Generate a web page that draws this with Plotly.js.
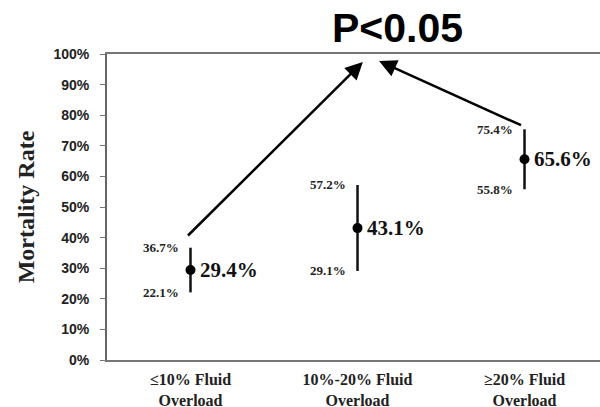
<!DOCTYPE html>
<html>
<head>
<meta charset="utf-8">
<script src="https://cdn.plot.ly/plotly-3.0.1.min.js"></script>
<style>html,body{margin:0;padding:0;background:#fff;}#chart{width:600px;height:407px;}</style>
</head>
<body>
<div id="chart"></div>
<script>
// Data
var categories = ["≤10% Fluid<br>Overload", "10%-20% Fluid<br>Overload", "≥20% Fluid<br>Overload"];
var mortality = [29.4, 43.1, 65.6];
var upperCI = [36.7, 57.2, 75.4];
var lowerCI = [22.1, 29.1, 55.8];
var yTickVals = [0, 10, 20, 30, 40, 50, 60, 70, 80, 90, 100];
var yTickText = ["0%", "10%", "20%", "30%", "40%", "50%", "60%", "70%", "80%", "90%", "100%"];
var pLabel = "P<0.05";

var xIdx = categories.map(function (c, i) { return i; });
var errPlus = upperCI.map(function (u, i) { return +(u - mortality[i]).toFixed(2); });
var errMinus = lowerCI.map(function (l, i) { return +(mortality[i] - l).toFixed(2); });

var trace = {
  x: xIdx,
  y: mortality,
  type: 'scatter',
  mode: 'markers',
  marker: {color: '#000', size: 10},
  error_y: {type: 'data', symmetric: false, array: errPlus, arrayminus: errMinus,
            color: '#111', thickness: 2.5, width: 0},
  hoverinfo: 'skip'
};

var serif = 'Liberation Serif, Times New Roman, serif';
var sans = 'Liberation Sans, Arial, sans-serif';

var annotations = [];
mortality.forEach(function (v, i) {
  annotations.push({x: i, y: v, xref: 'x', yref: 'y', text: v.toFixed(1) + '%', showarrow: false,
    xanchor: 'left', yanchor: 'middle', xshift: 7,
    font: {family: serif, size: 21, color: '#111', weight: 'bold'}});
  annotations.push({x: i, y: upperCI[i], xref: 'x', yref: 'y', text: upperCI[i].toFixed(1) + '%', showarrow: false,
    xanchor: 'right', yanchor: 'middle', xshift: -10,
    font: {family: serif, size: 13, color: '#222', weight: 'bold'}});
  annotations.push({x: i, y: lowerCI[i], xref: 'x', yref: 'y', text: lowerCI[i].toFixed(1) + '%', showarrow: false,
    xanchor: 'right', yanchor: 'middle', xshift: -10,
    font: {family: serif, size: 13, color: '#222', weight: 'bold'}});
});

// arrows toward the P label
annotations.push({x: 1.032, y: 97.4, xref: 'x', yref: 'y', ax: -0.024, ay: 40.2, axref: 'x', ayref: 'y',
  showarrow: true, arrowhead: 2, arrowsize: 1.4, arrowwidth: 2.5, arrowcolor: '#000', text: ''});
annotations.push({x: 1.129, y: 97.7, xref: 'x', yref: 'y', ax: 1.988, ay: 76.5, axref: 'x', ayref: 'y',
  showarrow: true, arrowhead: 2, arrowsize: 1.4, arrowwidth: 2.5, arrowcolor: '#000', text: ''});

annotations.push({x: 0.59, y: 1.085, xref: 'paper', yref: 'paper', text: pLabel, showarrow: false,
  xanchor: 'center', yanchor: 'middle',
  font: {family: sans, size: 41, color: '#000', weight: 'bold'}});

var layout = {
  width: 600, height: 407,
  margin: {l: 107, r: 0, t: 54, b: 47},
  paper_bgcolor: '#fff', plot_bgcolor: '#fff',
  showlegend: false,
  xaxis: {
    range: [-0.5, 2.452], tickmode: 'array', tickvals: xIdx, ticktext: categories,
    showgrid: false, zeroline: false, showline: true, mirror: true,
    linecolor: '#777', linewidth: 2, ticks: '', ticklabelstandoff: 4,
    tickfont: {family: serif, size: 16, color: '#222', weight: 'bold'}
  },
  yaxis: {
    range: [0, 100], tickmode: 'array', tickvals: yTickVals, ticktext: yTickText,
    showgrid: false, zeroline: false, showline: true,
    linecolor: '#666', linewidth: 2, ticks: 'outside', ticklen: 5, tickcolor: '#777', tickwidth: 1,
    ticklabelstandoff: 8,
    tickfont: {family: sans, size: 14, color: '#222', weight: 'bold'},
    title: {text: 'Mortality Rate', standoff: 12,
            font: {family: serif, size: 24, color: '#222', weight: 'bold'}}
  },
  annotations: annotations
};

Plotly.newPlot('chart', [trace], layout, {staticPlot: true, displayModeBar: false});
</script>
</body>
</html>
